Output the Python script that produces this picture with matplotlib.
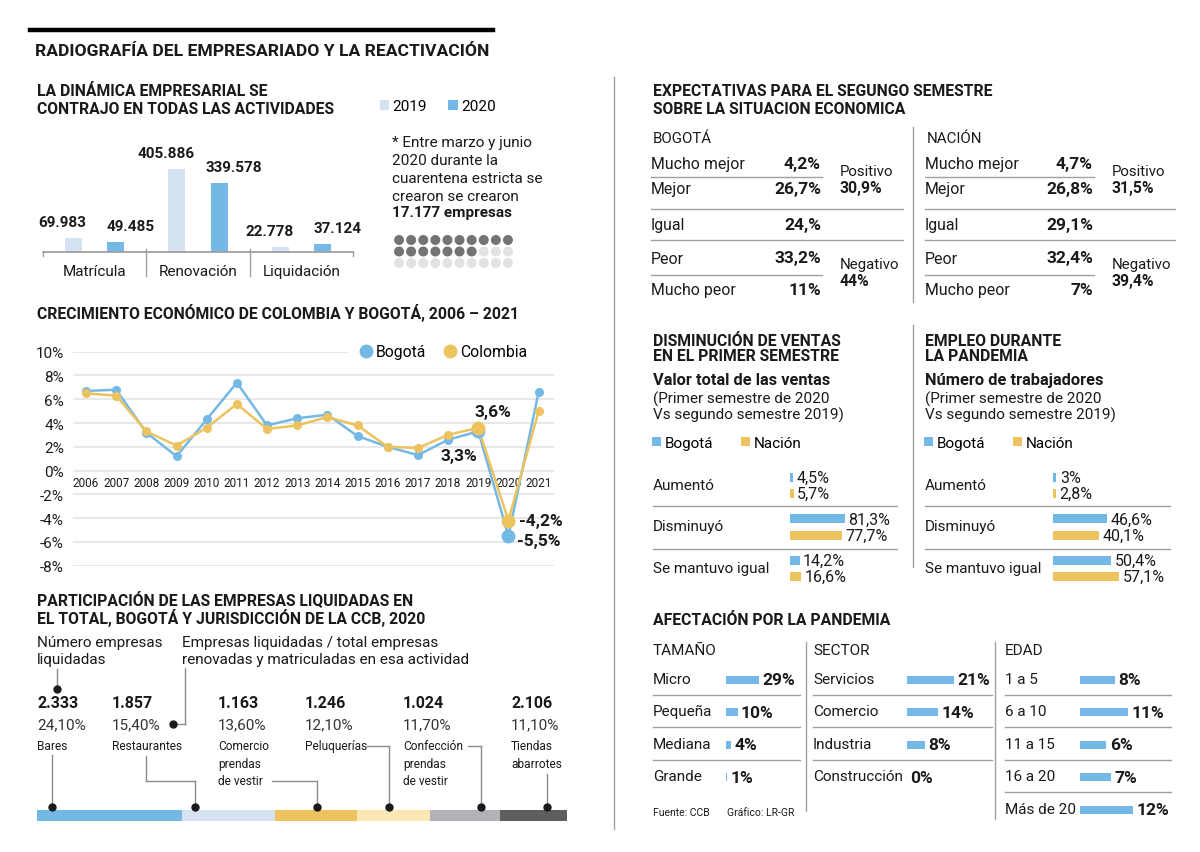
import matplotlib
matplotlib.use('Agg')
import matplotlib.pyplot as plt
from matplotlib.lines import Line2D
import numpy as np

# ---------------- DATA ----------------
activity_names = ['Matrícula', 'Renovación', 'Liquidación']
activity_2019 = [69983, 405886, 22778]
activity_2020 = [49485, 339578, 37124]
legend_years = ['2019', '2020']
dots_total = 30
dots_filled = 17
created_firms = 17177

growth_years = list(range(2006, 2022))
growth_bogota = [6.7, 6.8, 3.2, 1.2, 4.3, 7.4, 3.8, 4.4, 4.7, 2.9, 2.0, 1.3, 2.6, 3.3, -5.5, 6.6]
growth_colombia = [6.5, 6.3, 3.3, 2.1, 3.6, 5.6, 3.5, 3.8, 4.5, 3.8, 2.0, 1.9, 3.0, 3.6, -4.2, 5.0]
growth_yticks = list(range(-8, 11, 2))
growth_series = ['Bogotá', 'Colombia']

liq_names = ['Bares', 'Restaurantes', 'Comercio\nprendas\nde vestir', 'Peluquerías',
             'Confección\nprendas\nde vestir', 'Tiendas\nabarrotes']
liq_counts = [2333, 1857, 1163, 1246, 1024, 2106]
liq_share = [24.10, 15.40, 13.60, 12.10, 11.70, 11.10]

exp_rows = ['Mucho mejor', 'Mejor', 'Igual', 'Peor', 'Mucho peor']
exp_bogota = ['4,2%', '26,7%', '24,%', '33,2%', '11%']
exp_nacion = ['4,7%', '26,8%', '29,1%', '32,4%', '7%']
exp_groups = ['Positivo', 'Negativo']
exp_bogota_groups = ['30,9%', '44%']
exp_nacion_groups = ['31,5%', '39,4%']

change_rows = ['Aumentó', 'Disminuyó', 'Se mantuvo igual']
change_series = ['Bogotá', 'Nación']
sales_bogota = [4.5, 81.3, 14.2]
sales_nacion = [5.7, 77.7, 16.6]
jobs_bogota = [3.0, 46.6, 50.4]
jobs_nacion = [2.8, 40.1, 57.1]

size_names = ['Micro', 'Pequeña', 'Mediana', 'Grande']
size_vals = [29, 10, 4, 1]
sector_names = ['Servicios', 'Comercio', 'Industria', 'Construcción']
sector_vals = [21, 14, 8, 0]
age_names = ['1 a 5', '6 a 10', '11 a 15', '16 a 20', 'Más de 20']
age_vals = [8, 11, 6, 7, 12]

# ---------------- STYLE ----------------
W, H = 1200, 853
FONT = 'Roboto'
plt.rcParams['font.family'] = [FONT, 'DejaVu Sans']
TXT = '#1a1a1a'
BLUE = '#74b9e5'
LBLUE = '#d5e2f2'
YELLOW = '#ecc35f'
LYELLOW = '#fbe7b3'
GRAY = '#b1b1b6'
DGRAY = '#5e5e5e'
RULE = '#a0a0a0'
GRID = '#e6e6e6'
BODY = 11
SEC = 11.3

fig = plt.figure(figsize=(12, 8.53), dpi=100)
fig.patch.set_facecolor('white')


def T(x, y, s, size=BODY, weight='normal', ha='left', va='center', color=TXT, family=None):
    kw = {}
    if family is not None:
        kw['family'] = family
    fig.text(x / W, 1 - y / H, s, fontsize=size, fontweight=weight, ha=ha, va=va, color=color, **kw)


def L(x0, y0, x1, y1, color=RULE, lw=1.0):
    fig.add_artist(Line2D([x0 / W, x1 / W], [1 - y0 / H, 1 - y1 / H], color=color, lw=lw,
                          transform=fig.transFigure))


def DOT(x, y, ms=5, color=TXT):
    fig.add_artist(Line2D([x / W], [1 - y / H], marker='o', ms=ms, color=color, ls='',
                          transform=fig.transFigure))


def px_ax(x0, y0, x1, y1, off=True):
    ax = fig.add_axes([x0 / W, 1 - y1 / H, (x1 - x0) / W, (y1 - y0) / H])
    ax.patch.set_alpha(0)
    if off:
        ax.set_axis_off()
    return ax


def es_num(n):
    return f'{n:,}'.replace(',', '.')


def es_pct(v):
    return f'{v:g}'.replace('.', ',') + '%'


# ---------------- HEADER ----------------
L(30, 31, 493, 31, 'black', 3.2)
T(35, 51, 'RADIOGRAFÍA DEL EMPRESARIADO Y LA REACTIVACIÓN', 12.6, 'bold')
L(614, 78, 614, 830, RULE, 1)

# ---------------- ACTIVITY BARS ----------------
T(37, 91, 'LA DINÁMICA EMPRESARIAL SE', SEC, 'bold')
T(37, 109, 'CONTRAJO EN TODAS LAS ACTIVIDADES', SEC, 'bold')
ax = px_ax(43, 150, 353, 253)
x = np.arange(len(activity_names))
ax.set_xlim(-0.5, len(activity_names) - 0.5)
ax.set_ylim(0, max(activity_2019) * 103 / 83)
b19 = ax.bar(x - 0.204, activity_2019, 0.165, color=LBLUE, label=legend_years[0])
b20 = ax.bar(x + 0.204, activity_2020, 0.165, color=BLUE, label=legend_years[1])
ax.axhline(0, color=RULE, lw=1.3, clip_on=False)
xt = ax.get_xaxis_transform()
for v in np.arange(0.5, len(activity_names) - 0.5, 1.0):
    ax.plot([v, v], [3 / 103, -24 / 103], transform=xt, color=RULE, lw=1, clip_on=False)
for v in (-0.5, len(activity_names) - 0.5):
    ax.plot([v, v], [0, -4 / 103], transform=xt, color=RULE, lw=1, clip_on=False)
for i, name in enumerate(activity_names):
    ax.text(i, -19 / 103, name, transform=xt, ha='center', va='center', fontsize=BODY, color=TXT)
for bars, vals, dx in ((b19, activity_2019, -11), (b20, activity_2020, 15)):
    for r, v in zip(bars, vals):
        ax.annotate(es_num(v), (r.get_x() + r.get_width() / 2, v), xytext=(dx * 0.72, 16 * 0.72),
                    textcoords='offset points', ha='center', va='center', fontsize=11,
                    fontweight='bold', color=TXT)
ax.legend(handles=[b19, b20], ncol=2, loc='center left', bbox_to_anchor=(380 / W, 1 - 107 / H),
          bbox_transform=fig.transFigure, frameon=False, fontsize=BODY, handlelength=0.62,
          handleheight=0.62, handletextpad=0.2, columnspacing=1.4, borderpad=0, borderaxespad=0)

T(392, 143, '* Entre marzo y junio')
T(392, 161, '2020 durante la')
T(392, 179, 'cuarentena estricta se')
T(392, 197, 'crearon se crearon')
T(392, 213, es_num(created_firms) + ' empresas', BODY, 'bold')

axd = px_ax(393, 235.25, 514, 269.75)
axd.set_xlim(-0.5, 9.5)
axd.set_ylim(2.5, -0.5)
idx = np.arange(dots_total)
axd.scatter(idx % 10, idx // 10, s=(10 * 0.72) ** 2,
            c=['#737373' if i < dots_filled else '#e2e2e2' for i in idx], linewidths=0, clip_on=False)

# ---------------- GROWTH LINES ----------------
T(37, 313, 'CRECIMIENTO ECONÓMICO DE COLOMBIA Y BOGOTÁ, 2006 – 2021', SEC, 'bold')
ax2 = px_ax(73, 352.7, 554, 566.7, off=False)
ax2.set_ylim(-8, 10)
ax2.set_xlim(growth_years[0] - 0.43, growth_years[-1] + 0.51)
for s in ax2.spines.values():
    s.set_visible(False)
ax2.set_xticks([])
ax2.set_yticks(growth_yticks)
ax2.set_yticklabels([f'{v}%' for v in growth_yticks])
ax2.tick_params(axis='y', length=0, pad=6.5, labelsize=11, labelcolor=TXT)
for v in growth_yticks:
    ax2.axhline(v, xmax=0.572 if v == growth_yticks[-1] else 1, color=GRID, lw=1.3, zorder=0)
for yr in growth_years:
    ax2.text(yr, -0.97, str(yr), ha='center', va='center', fontsize=8.5, color=TXT, zorder=1)
ax2.plot(growth_years, growth_bogota, color=BLUE, lw=1.8, marker='o', ms=5.5, zorder=3, clip_on=False)
ax2.plot(growth_years, growth_colombia, color=YELLOW, lw=1.8, marker='o', ms=5.5, zorder=4, clip_on=False)
hl = [growth_years.index(2019), growth_years.index(2020)]
ax2.plot([growth_years[i] for i in hl], [growth_bogota[i] for i in hl], 'o', color=BLUE, ms=9, zorder=5)
ax2.plot([growth_years[i] for i in hl], [growth_colombia[i] for i in hl], 'o', color=YELLOW, ms=9, zorder=6)
ann = [(growth_colombia, hl[0], 15, -16, 'center'), (growth_bogota, hl[0], -19, 24, 'center'),
       (growth_colombia, hl[1], 11, 0, 'left'), (growth_bogota, hl[1], 9, 5, 'left')]
for series, i, dx, dy, ha in ann:
    ax2.annotate(es_pct(series[i]), (growth_years[i], series[i]), xytext=(dx * 0.72, -dy * 0.72),
                 textcoords='offset points', ha=ha, va='center', fontsize=12.5, fontweight='bold',
                 color=TXT, zorder=7)
ax2.legend(handles=[Line2D([], [], marker='o', ls='', color=BLUE, ms=9, label=growth_series[0]),
                    Line2D([], [], marker='o', ls='', color=YELLOW, ms=9, label=growth_series[1])],
           ncol=2, loc='center left', bbox_to_anchor=(358 / W, 1 - 353 / H), bbox_transform=fig.transFigure,
           frameon=False, fontsize=11.3, handlelength=1.0, handletextpad=0.15, columnspacing=1.0,
           borderpad=0, borderaxespad=0)

# ---------------- LIQUIDATED ----------------
T(37, 600, 'PARTICIPACIÓN DE LAS EMPRESAS LIQUIDADAS EN', SEC, 'bold')
T(37, 618, 'EL TOTAL, BOGOTÁ Y JURISDICCIÓN DE LA CCB, 2020', SEC, 'bold')
T(37, 643, 'Número empresas')
T(37, 660, 'liquidadas')
T(182, 643, 'Empresas liquidadas / total empresas')
T(182, 660, 'renovadas y matriculadas en esa actividad')
L(57, 670, 57, 689, '#8c8c8c')
DOT(57, 690)
L(173, 725, 185, 725, '#8c8c8c')
L(185, 725, 185, 669, '#8c8c8c')
DOT(173, 725)

item_x = [37, 112, 218, 305, 403, 511]
for xx, name, cnt, sh in zip(item_x, liq_names, liq_counts, liq_share):
    T(xx, 704, es_num(cnt), 11.5, 'bold')
    T(xx, 725, f'{sh:.2f}'.replace('.', ',') + '%', BODY, color='#333333')
    for k, line in enumerate(name.split('\n')):
        T(xx, 747 + 17.5 * k, line, 8.6)

ax3 = px_ax(37, 811, 567, 822)
total = sum(liq_share)
ax3.set_xlim(0, total)
ax3.set_ylim(-0.5, 0.5)
lefts = np.cumsum([0] + liq_share[:-1])
ax3.barh(0, liq_share, left=lefts, height=1, color=[BLUE, LBLUE, YELLOW, LYELLOW, GRAY, DGRAY])
dot_frac = [0.10, 0.14, 0.51, 0.44, 0.73, 0.70]
dpx = [37 + (l + f * w) * 530 / total for l, f, w in zip(lefts, dot_frac, liq_share)]
CL = '#8c8c8c'
L(dpx[0], 756, dpx[0], 808, CL)
L(146, 757, 146, 782, CL); L(146, 782, dpx[1], 782, CL); L(dpx[1], 782, dpx[1], 808, CL)
L(272, 782, dpx[2], 782, CL); L(dpx[2], 782, dpx[2], 808, CL)
L(367, 747, dpx[3], 747, CL); L(dpx[3], 747, dpx[3], 808, CL)
L(468, 747, dpx[4], 747, CL); L(dpx[4], 747, dpx[4], 808, CL)
L(dpx[5], 775, dpx[5], 808, CL)
for d in dpx:
    DOT(d, 808)

# ---------------- EXPECTATIVAS ----------------
T(653, 91, 'EXPECTATIVAS PARA EL SEGUNGO SEMESTRE', SEC, 'bold')
T(653, 109, 'SOBRE LA SITUACION ECONOMICA', SEC, 'bold')
row_y = [164, 190, 226, 259, 291]
for x0, title, vals, groups, vr, gx, le in ((651, 'BOGOTÁ', exp_bogota, exp_bogota_groups, 821, 840, 903),
                                            (925, 'NACIÓN', exp_nacion, exp_nacion_groups, 1093, 1112, 1175)):
    T(x0 + 2, 139, title, 10.8)
    for yy, lab, v in zip(row_y, exp_rows, vals):
        T(x0, yy, lab, 11.4)
        T(vr, yy, v, 12.5, 'bold', ha='right')
    L(x0, 178, vr + 1, 178)
    L(x0, 210, le, 210)
    L(x0, 241, le, 241)
    L(x0, 276, vr + 1, 276)
    T(gx, 172, exp_groups[0], 10.8)
    T(gx, 189, groups[0], 11.3, 'bold')
    T(gx, 265, exp_groups[1], 10.8)
    T(gx, 282, groups[1], 11.3, 'bold')
L(913, 128, 913, 303)
L(913, 326, 913, 568)

# ---------------- SALES / JOBS ----------------
blocks = [(653, ['DISMINUCIÓN DE VENTAS', 'EN EL PRIMER SEMESTRE'], 'Valor total de las ventas',
           sales_bogota, sales_nacion, 790, 0.673, 897),
          (925, ['EMPLEO DURANTE', 'LA PANDEMIA'], 'Número de trabajadores',
           jobs_bogota, jobs_nacion, 1053, 1.155, 1170)]
for x0, titles, sub, bv, nv, bx0, scale, re in blocks:
    T(x0, 341, titles[0], SEC, 'bold')
    T(x0, 357, titles[1], SEC, 'bold')
    T(x0, 381, sub, 11.8, 'semibold')
    T(x0, 399, '(Primer semestre de 2020', BODY)
    T(x0, 415, 'Vs segundo semestre 2019)', BODY)
    for k, lab in enumerate(change_rows):
        T(x0, 486 + 41.5 * k, lab, BODY)
    L(x0, 507, re, 507)
    L(x0, 550, re, 550)
    axb = px_ax(bx0, 465.5, bx0 + 100 * scale, 590.5)
    axb.set_xlim(0, 100)
    n = len(change_rows)
    axb.set_ylim(n - 0.5, -0.5)
    yy = np.arange(n)
    hb = axb.barh(yy - 0.195, bv, height=0.22, color=BLUE, label=change_series[0])
    hn = axb.barh(yy + 0.195, nv, height=0.22, color=YELLOW, label=change_series[1])
    for off, vals in ((-0.195, bv), (0.195, nv)):
        for i, v in enumerate(vals):
            axb.annotate(es_pct(v), (v, i + off), xytext=(2.5, 0), textcoords='offset points',
                         ha='left', va='center', fontsize=11.5, color=TXT, annotation_clip=False)
    axb.legend(handles=[hb, hn], ncol=2, loc='center left', bbox_to_anchor=((x0 - 1) / W, 1 - 444 / H),
               bbox_transform=fig.transFigure, frameon=False, fontsize=BODY, handlelength=0.6,
               handleheight=0.6, handletextpad=0.25, columnspacing=1.8, borderpad=0, borderaxespad=0)

# ---------------- AFECTACION ----------------
T(653, 621, 'AFECTACIÓN POR LA PANDEMIA', SEC, 'bold')
L(806, 643, 806, 812)
L(995, 643, 995, 820)
groups = [('TAMAÑO', size_names, size_vals, 653, 726, 1.15, 800),
          ('SECTOR', sector_names, sector_vals, 813, 907, 2.22, 992),
          ('EDAD', age_names, age_vals, 1005, 1080, 4.4, 1171)]
RY0, RDY = 680, 32.4
for head, names, vals, x0, bx0, scale, re in groups:
    T(x0, 651, head, BODY)
    n = len(names)
    for k, lab in enumerate(names):
        T(x0, RY0 + RDY * k, lab, 11)
        if k < n - 1:
            L(x0, RY0 + RDY * k + 16, re, RY0 + RDY * k + 16)
    axa = px_ax(bx0, RY0 - RDY / 2 + 1, bx0 + 100, RY0 + RDY * (n - 0.5) + 1)
    axa.set_xlim(0, 100 / scale)
    axa.set_ylim(n - 0.5, -0.5)
    axa.barh(np.arange(n), vals, height=0.25, color=BLUE)
    for i, v in enumerate(vals):
        axa.annotate(f'{v}%', (v, i), xytext=(2.5, 0), textcoords='offset points', ha='left',
                     va='center', fontsize=12.5, fontweight='bold', color=TXT, annotation_clip=False)

T(653, 813, 'Fuente: CCB', 7.5)
T(727, 813, 'Gráfico: LR-GR', 7.5)

fig.savefig('out.png', dpi=100, facecolor='white')
